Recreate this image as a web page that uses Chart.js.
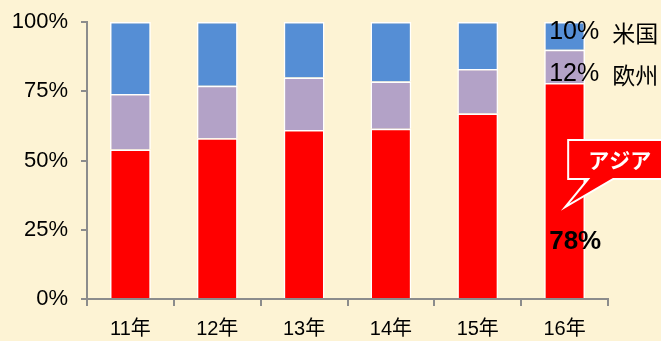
<!DOCTYPE html>
<html lang="ja">
<head>
  <meta charset="UTF-8" />
  <title>地域別構成比</title>
  <script src="https://cdn.jsdelivr.net/npm/chart.js"></script>
  <style>
    * { margin: 0; padding: 0; box-sizing: border-box; }
    body { background: #fdf3d4; width: 661px; height: 341px; overflow: hidden; }
    .wrap { position: relative; width: 661px; height: 341px; }
  </style>
</head>
<body>
  <div class="wrap"><canvas id="chart"></canvas></div>
  <script>
    const years = ['11年', '12年', '13年', '14年', '15年', '16年'];
    const asia = [54, 58, 61, 61.5, 67, 78];
    const europe = [20, 19, 19, 17, 16, 12];
    const usa = [26, 23, 20, 21.5, 17, 10];
    const yTicks = [0, 25, 50, 75, 100];

    const font = "'Liberation Sans', Arial, 'Noto Sans CJK JP', sans-serif";
    const jpFont = "'Noto Sans CJK JP', sans-serif";

    // labels on the last bar and the "アジア" callout
    const notes = {
      id: 'notes',
      afterDatasetsDraw(chart) {
        const { ctx, scales: { y } } = chart;
        const last = years.length - 1;
        const bar = chart.getDatasetMeta(0).data[last];
        const left = bar.x - bar.width / 2;
        ctx.save();
        ctx.textBaseline = 'middle';
        ctx.fillStyle = '#000';

        const usMid = y.getPixelForValue(100 - usa[last] / 2) - 4;
        const euMid = y.getPixelForValue(asia[last] + europe[last] / 2) + 8;
        [[usa[last] + '%', '米国', usMid], [europe[last] + '%', '欧州', euMid]].forEach(([p, n, yy]) => {
          ctx.font = '25px ' + font;
          ctx.fillText(p, left + 5, yy);
          const w = ctx.measureText(p).width;
          ctx.font = '23px ' + jpFont;
          ctx.fillText(n, left + 18 + w, yy + 1);
        });

        // callout
        const bx = left + 24, by = 140, bw = 120, bh = 39;
        const tipX = left + 21, tipY = 207;
        ctx.beginPath();
        ctx.moveTo(bx, by);
        ctx.lineTo(bx + bw, by);
        ctx.lineTo(bx + bw, by + bh);
        ctx.lineTo(bx + 45, by + bh);
        ctx.lineTo(tipX, tipY);
        ctx.lineTo(bx + 20, by + bh);
        ctx.lineTo(bx, by + bh);
        ctx.closePath();
        ctx.fillStyle = '#ff0000';
        ctx.fill();
        ctx.strokeStyle = '#fff';
        ctx.lineWidth = 2;
        ctx.stroke();
        ctx.fillStyle = '#fff';
        ctx.font = 'bold 21px ' + jpFont;
        ctx.textAlign = 'left';
        ctx.fillText('アジア', bx + 20, by + 20);

        ctx.fillStyle = '#000';
        ctx.font = 'bold 26px ' + font;
        ctx.fillText(asia[last] + '%', left + 5, y.getPixelForValue(20.5));
        ctx.restore();
      }
    };

    const ctx = document.getElementById('chart').getContext('2d');
    new Chart(ctx, {
      type: 'bar',
      data: {
        labels: years,
        datasets: [
          { label: 'アジア', data: asia, backgroundColor: '#ff0000' },
          { label: '欧州', data: europe, backgroundColor: '#b3a2c7' },
          { label: '米国', data: usa, backgroundColor: '#558ed5' }
        ].map(d => Object.assign(d, {
          borderColor: '#ffffff',
          borderWidth: 1.5,
          categoryPercentage: 1,
          barPercentage: 0.47
        }))
      },
      options: {
        responsive: true,
        maintainAspectRatio: false,
        animation: false,
        layout: { padding: { top: 22, right: 53, bottom: 0, left: 0 } },
        plugins: { legend: { display: false }, tooltip: { enabled: false } },
        scales: {
          x: {
            stacked: true,
            border: { color: '#8c8c8c', width: 2 },
            grid: { drawOnChartArea: false, color: '#8c8c8c', lineWidth: 2, tickLength: 7 },
            ticks: { color: '#000', font: { family: font, size: 20 }, padding: 11 },
            afterFit(s) { s.height = 42; s.paddingLeft = 0; s.paddingRight = 0; }
          },
          y: {
            stacked: true,
            min: 0,
            max: 100,
            afterBuildTicks(s) { s.ticks = yTicks.map(v => ({ value: v })); },
            border: { color: '#8c8c8c', width: 2 },
            grid: { drawOnChartArea: false, color: '#8c8c8c', lineWidth: 2, tickLength: 6 },
            ticks: {
              color: '#000',
              font: { family: font, size: 22 },
              padding: 13,
              callback: v => v + '%'
            },
            afterFit(s) { s.width = 87; s.paddingTop = 0; s.paddingBottom = 0; }
          }
        }
      },
      plugins: [notes]
    });
  </script>
</body>
</html>
